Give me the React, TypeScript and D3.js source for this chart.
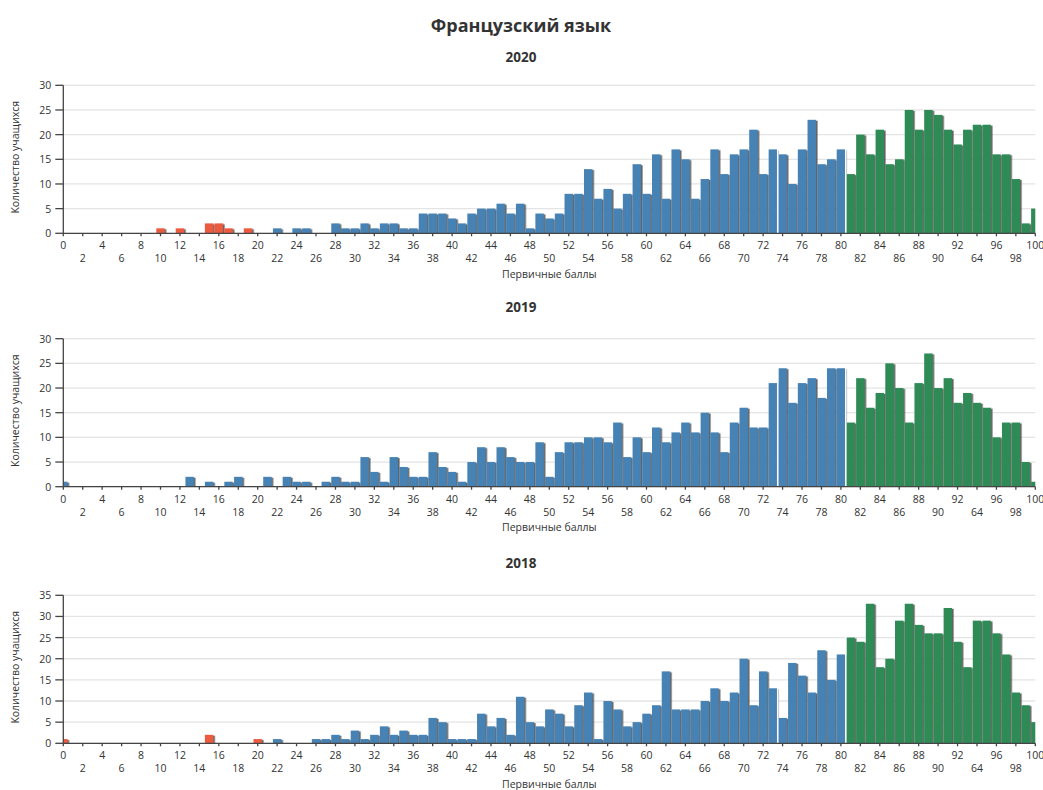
import React from "react";
import * as d3 from "d3";

const chartTitle = "Французский язык";
const yAxisTitle = "Количество учащихся";
const xAxisTitle = "Первичные баллы";

const scores = d3.range(0, 101);

const xTickValues = d3.range(0, 101, 2);
const xTickLabels = [
  "0", "2", "4", "6", "8", "10", "12", "14", "16", "18", "20", "22", "24", "26", "28", "30",
  "32", "34", "36", "38", "40", "42", "44", "46", "48", "50", "52", "54", "56", "58", "60",
  "62", "64", "66", "68", "70", "72", "74", "76", "78", "80", "82", "84", "86", "88", "90",
  "92", "64", "96", "98", "100",
];

// counts per primary score 0..100
const counts2020 = [
  0, 0, 0, 0, 0, 0, 0, 0, 0, 0,
  1, 0, 1, 0, 0, 2, 2, 1, 0, 1,
  0, 0, 1, 0, 1, 1, 0, 0, 2, 1,
  1, 2, 1, 2, 2, 1, 1, 4, 4, 4,
  3, 2, 4, 5, 5, 6, 4, 6, 1, 4,
  3, 4, 8, 8, 13, 7, 9, 5, 8, 14,
  8, 16, 7, 17, 15, 7, 11, 17, 12, 16,
  17, 21, 12, 17, 16, 10, 17, 23, 14, 15,
  17, 12, 20, 16, 21, 14, 15, 25, 21, 25,
  24, 21, 18, 21, 22, 22, 16, 16, 11, 2,
  5,
];

const counts2019 = [
  1, 0, 0, 0, 0, 0, 0, 0, 0, 0,
  0, 0, 0, 2, 0, 1, 0, 1, 2, 0,
  0, 2, 0, 2, 1, 1, 0, 1, 2, 1,
  1, 6, 3, 1, 6, 4, 2, 2, 7, 4,
  3, 1, 5, 8, 5, 8, 6, 5, 5, 9,
  2, 7, 9, 9, 10, 10, 9, 13, 6, 10,
  7, 12, 9, 11, 13, 11, 15, 11, 7, 13,
  16, 12, 12, 21, 24, 17, 21, 22, 18, 24,
  24, 13, 22, 16, 19, 25, 20, 13, 21, 27,
  20, 22, 17, 19, 17, 16, 10, 13, 13, 5,
  1,
];

const counts2018 = [
  1, 0, 0, 0, 0, 0, 0, 0, 0, 0,
  0, 0, 0, 0, 0, 2, 0, 0, 0, 0,
  1, 0, 1, 0, 0, 0, 1, 1, 2, 1,
  3, 1, 2, 4, 2, 3, 2, 2, 6, 5,
  1, 1, 1, 7, 4, 6, 2, 11, 5, 4,
  8, 7, 4, 9, 12, 1, 10, 8, 4, 5,
  7, 9, 17, 8, 8, 8, 10, 13, 10, 12,
  20, 9, 17, 13, 6, 19, 16, 12, 22, 15,
  21, 25, 24, 33, 18, 20, 29, 33, 28, 26,
  26, 32, 24, 18, 29, 29, 26, 21, 12, 9,
  5,
];

const years = ["2020", "2019", "2018"];
const yMaxes = [30, 30, 35];
const failBelow = [21, 0, 21]; // scores below this are red
const greenFrom = 81;
const separators = [73.5, 80.5];

const RED = "#ec5a40";
const BLUE = "#4682b4";
const GREEN = "#2e8b57";

const FONT = "'Open Sans', 'Noto Sans', sans-serif";

const layout = [
  { titleY: 57, top: 85.3, bottom: 233.3 },
  { titleY: 307, top: 338.7, bottom: 486.7 },
  { titleY: 563, top: 595.3, bottom: 743.3 },
];

const X0 = 63.3;
const X1 = 1035.3;

function Panel({ idx, counts }: { idx: number; counts: number[] }) {
  const { titleY, top, bottom } = layout[idx];
  const x = d3.scaleLinear().domain([0, 100]).range([X0, X1]);
  const y = d3.scaleLinear().domain([0, yMaxes[idx]]).range([bottom, top]);
  const yTicks = d3.range(0, yMaxes[idx] + 1, 5);
  const step = x(1) - x(0);
  const bw = step * 0.865;
  const color = (s: number) => (s < failBelow[idx] ? RED : s >= greenFrom ? GREEN : BLUE);
  const clipId = `clip-${idx}`;
  return (
    <g>
      <defs>
        <clipPath id={clipId}>
          <rect x={X0} y={top - 10} width={X1 - X0} height={bottom - top + 10} />
        </clipPath>
      </defs>
      <text x={521} y={titleY} textAnchor="middle" dominantBaseline="central" fontFamily={FONT} fontWeight="bold" fontSize={13.5} fill="#333">
        {years[idx]}
      </text>
      {yTicks.map((t) => (
        <line key={"g" + t} x1={X0} x2={X1} y1={y(t)} y2={y(t)} stroke="#e4e4e4" strokeWidth={1.3} />
      ))}
      <g clipPath={`url(#${clipId})`}>
        <g filter="url(#shadow)">
          {scores.map((s) =>
            counts[s] > 0 ? (
              <rect key={s} x={x(s) - bw / 2} y={y(counts[s])} width={bw} height={bottom - y(counts[s])} fill={color(s)} />
            ) : null
          )}
        </g>
        {separators.map((sp) => {
          const h = Math.max(counts[Math.floor(sp)], counts[Math.ceil(sp)]);
          return (
            <rect key={"s" + sp} x={x(sp) - 0.75} y={y(h) - 2} width={1.5} height={bottom - y(h) + 2} fill="#fff" />
          );
        })}
      </g>
      {/* y axis */}
      <line x1={X0} x2={X0} y1={top} y2={bottom} stroke="#444" strokeWidth={1.3} />
      {yTicks.map((t) => (
        <g key={"yt" + t}>
          <line x1={X0 - 8} x2={X0} y1={y(t)} y2={y(t)} stroke="#444" strokeWidth={1.3} />
          <text x={X0 - 12} y={y(t)} textAnchor="end" dominantBaseline="central" fontFamily={FONT} fontSize={10.5} fill="#333">
            {t}
          </text>
        </g>
      ))}
      {/* x axis */}
      <line x1={X0} x2={X1} y1={bottom} y2={bottom} stroke="#444" strokeWidth={1.3} />
      {xTickValues.map((t, i) => (
        <g key={"xt" + t}>
          <line x1={x(t)} x2={x(t)} y1={bottom} y2={bottom + 3} stroke="#444" strokeWidth={1.3} />
          <text x={x(t)} y={bottom + (i % 2 === 0 ? 12 : 25)} textAnchor="middle" dominantBaseline="central" fontFamily={FONT} fontSize={10.5} fill="#333">
            {xTickLabels[i]}
          </text>
        </g>
      ))}
      <text x={(X0 + X1) / 2} y={bottom + 40.5} textAnchor="middle" dominantBaseline="central" fontFamily={FONT} fontSize={10.5} fill="#333">
        {xAxisTitle}
      </text>
      <text
        transform={`translate(15, ${(top + bottom) / 2 - 2}) rotate(-90)`}
        textAnchor="middle"
        dominantBaseline="central"
        fontFamily={FONT}
        fontSize={10.5}
        fill="#333"
      >
        {yAxisTitle}
      </text>
    </g>
  );
}

export default function App() {
  const all = [counts2020, counts2019, counts2018];
  return (
    <div style={{ position: "absolute", left: 0, top: 0 }}>
      <svg width={1043} height={790} style={{ display: "block", background: "#fff" }}>
        <defs>
          <filter id="shadow" x="-10%" y="-10%" width="130%" height="130%">
            <feDropShadow dx={1.6} dy={0.8} stdDeviation={0.5} floodColor="#3a3a3a" floodOpacity={0.8} />
          </filter>
        </defs>
        <text x={521} y={25} textAnchor="middle" dominantBaseline="central" fontFamily={FONT} fontWeight="bold" fontSize={18} fill="#333">
          {chartTitle}
        </text>
        {all.map((c, i) => (
          <Panel key={i} idx={i} counts={c} />
        ))}
      </svg>
    </div>
  );
}
